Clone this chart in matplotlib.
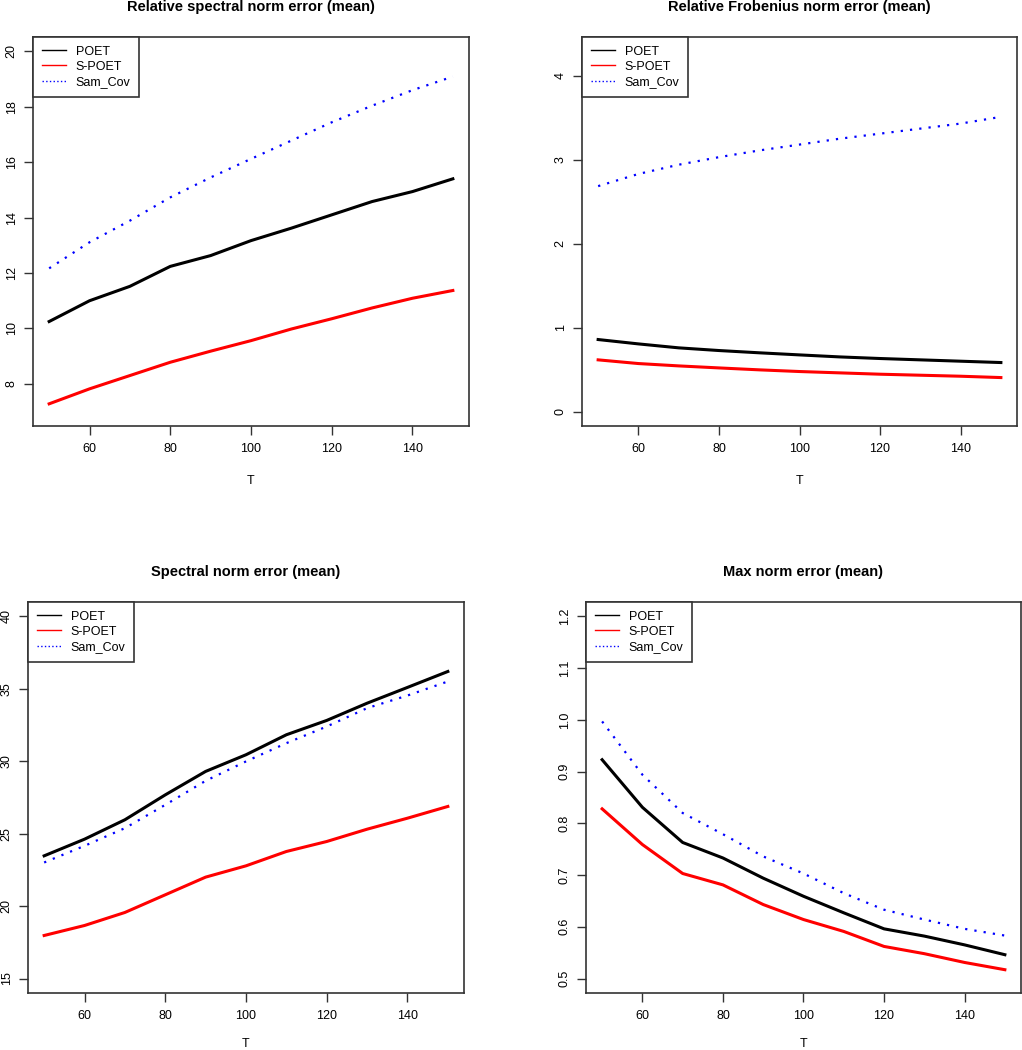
import matplotlib
matplotlib.use("Agg")
import matplotlib.pyplot as plt
from matplotlib.lines import Line2D
import numpy as np

plt.rcParams['font.family'] = ['Liberation Sans', 'DejaVu Sans']

# ------------------ DATOS ------------------
T = [50, 60, 70, 80, 90, 100, 110, 120, 130, 140, 150]
series_names = ["POET", "S-POET", "Sam_Cov"]

rel_spec_poet = [10.25, 11.0, 11.52, 12.24, 12.63, 13.17, 13.62, 14.1, 14.58, 14.94, 15.4]
rel_spec_spoet = [7.28, 7.82, 8.30, 8.78, 9.18, 9.56, 9.98, 10.35, 10.74, 11.09, 11.37]
rel_spec_samcov = [12.17, 13.11, 13.89, 14.73, 15.45, 16.12, 16.78, 17.44, 18.04, 18.6, 19.09]

rel_frob_poet = [0.858, 0.806, 0.759, 0.727, 0.70, 0.675, 0.651, 0.632, 0.616, 0.60, 0.584]
rel_frob_spoet = [0.616, 0.572, 0.544, 0.52, 0.497, 0.477, 0.461, 0.445, 0.433, 0.421, 0.405]
rel_frob_samcov = [2.685, 2.83, 2.94, 3.03, 3.11, 3.18, 3.25, 3.31, 3.37, 3.43, 3.51]

spec_poet = [23.47, 24.62, 25.96, 27.68, 29.3, 30.45, 31.83, 32.82, 34.01, 35.1, 36.2]
spec_spoet = [17.97, 18.66, 19.56, 20.78, 22.0, 22.78, 23.77, 24.46, 25.31, 26.07, 26.88]
spec_samcov = [23.01, 24.16, 25.38, 26.99, 28.65, 29.99, 31.25, 32.4, 33.67, 34.54, 35.51]

max_poet = [0.923, 0.831, 0.763, 0.733, 0.694, 0.659, 0.627, 0.596, 0.582, 0.565, 0.546]
max_spoet = [0.828, 0.759, 0.703, 0.681, 0.643, 0.614, 0.591, 0.562, 0.548, 0.531, 0.517]
max_samcov = [0.997, 0.894, 0.820, 0.779, 0.736, 0.703, 0.665, 0.633, 0.614, 0.596, 0.583]

titles = ["Relative spectral norm error (mean)", "Relative Frobenius norm error (mean)",
          "Spectral norm error (mean)", "Max norm error (mean)"]
y_ranges = [(7, 20), (0, 4.29), (15, 40), (0.5, 1.2)]
y_ticks = [np.arange(8, 21, 2), np.arange(0, 5, 1), np.arange(15, 41, 5),
           [0.5, 0.6, 0.7, 0.8, 0.9, 1.0, 1.1, 1.2]]
paneles = [
    (rel_spec_poet, rel_spec_spoet, rel_spec_samcov),
    (rel_frob_poet, rel_frob_spoet, rel_frob_samcov),
    (spec_poet, spec_spoet, spec_samcov),
    (max_poet, max_spoet, max_samcov),
]

# posiciones de los ejes (fraccion de figura)
posiciones = [
    [0.0323, 0.5943, 0.4266, 0.3705],
    [0.5695, 0.5943, 0.4256, 0.3705],
    [0.0274, 0.0543, 0.4266, 0.3724],
    [0.5734, 0.0543, 0.4256, 0.3724],
]
xlabel_pads = [14.5, 14.5, 12, 12]

colores = ["black", "#FF0000", "#0000FF"]
estilos = ["-", "-", (0, (1, 3.2))]
anchos = [2.2, 2.2, 1.6]

fig = plt.figure(figsize=(10.22, 10.5), dpi=100)

for i in range(4):
    ax = fig.add_axes(posiciones[i])
    for serie, c, ls, lw in zip(paneles[i], colores, estilos, anchos):
        ax.plot(T, serie, color=c, linestyle=ls, linewidth=lw)

    ax.set_xlim(46, 154)
    lo, hi = y_ranges[i]
    d = (hi - lo) * 0.04
    ax.set_ylim(lo - d, hi + d)
    ax.set_xticks([60, 80, 100, 120, 140])
    ax.set_yticks(y_ticks[i])
    ax.set_yticklabels([f"{v:g}" if i != 3 else f"{v:.1f}" for v in y_ticks[i]],
                       rotation=90, va="center")
    ax.tick_params(length=6.5, width=1, labelsize=9, color="#333333")
    ax.tick_params(axis="x", pad=5.5)
    ax.tick_params(axis="y", pad=4.5)
    for s in ax.spines.values():
        s.set_color("#333333")
        s.set_linewidth(1.2)

    ax.set_title(titles[i], fontsize=10.5, fontweight="bold", pad=19)
    ax.set_xlabel("T", fontsize=9, labelpad=xlabel_pads[i])

    handles = [Line2D([], [], color=c, linestyle=ls if k < 2 else ":", linewidth=1)
               for k, (c, ls) in enumerate(zip(colores, estilos))]
    leg = ax.legend(handles, series_names, loc="upper left", borderaxespad=0,
                    fancybox=False, framealpha=1, edgecolor="#333333", fontsize=9,
                    handlelength=1.9, handletextpad=0.8, borderpad=0.7,
                    labelspacing=0.25)
    leg.get_frame().set_linewidth(1.2)

fig.savefig("out.png", dpi=100)
